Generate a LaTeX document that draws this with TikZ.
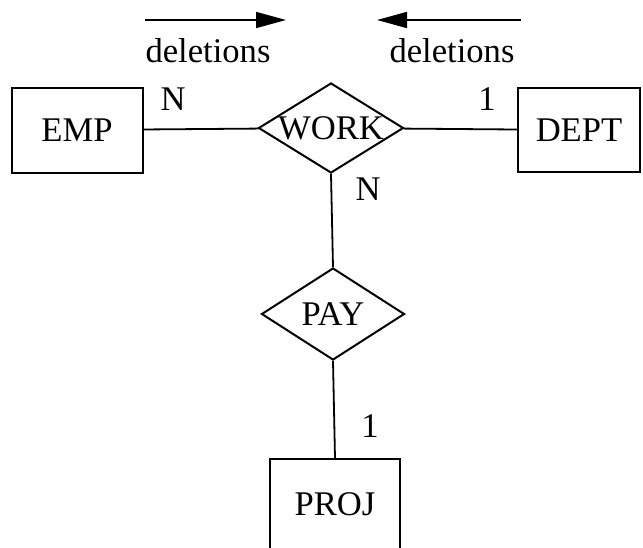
\documentclass[tikz,border=0pt]{standalone}
\usepackage{fontspec}
\setmainfont{Liberation Serif}
\usetikzlibrary{arrows.meta}
\usetikzlibrary{shapes.geometric}

\tikzset{
  entity/.style={draw, line width=1pt, rectangle, inner sep=0pt},
  relship/.style={draw, line width=1pt, diamond, inner sep=0pt},
  card/.style={anchor=base},
}

\begin{document}
\begin{tikzpicture}[x=0.5pt, y=-0.5pt, font=\fontsize{17.3pt}{20pt}\selectfont]
\clip (0,0) rectangle (643,547);
\node[entity, minimum width=65.5pt, minimum height=42.5pt] (emp) at (77,130) {EMP};
\node[relship, minimum width=72.5pt, minimum height=45pt] (work) at (331,128) {\makebox[0pt]{WORK}};
\node[entity, minimum width=61pt, minimum height=42pt] (dept) at (579,130) {DEPT};
\node[relship, minimum width=71.5pt, minimum height=46pt] (pay) at (333,314) {\makebox[0pt]{PAY}};
\node[entity, minimum width=65pt, minimum height=48pt, anchor=north] (proj) at (335,458) {\raisebox{2.5pt}{PROJ}};
\draw [line width=0.9pt] (emp) -- (work);
\draw [line width=0.9pt] (work) -- (dept);
\draw [line width=0.9pt] (work.south) -- (pay.north);
\draw [line width=0.9pt] (pay.south) -- (proj.north);
\node[card] (nemp) at (173,110) {N};
\node[card] (onedept) at (487,110) {1};
\node[card] (nwork) at (368,200) {N};
\node[card] (oneproj) at (370,437) {1};
\draw [line width=0.8pt, -{Triangle[length=15pt, width=8pt]}] (145,20) coordinate (ltail) -- (286,20) coordinate (ltip);
\draw [line width=0.8pt, -{Triangle[length=15pt, width=8pt]}] (521,20) coordinate (rtail) -- (377,20) coordinate (rtip);
\node[anchor=base] (ldel) at (208,62) {deletions};
\node[anchor=base] (rdel) at (452,62) {deletions};
\end{tikzpicture}
\end{document}
